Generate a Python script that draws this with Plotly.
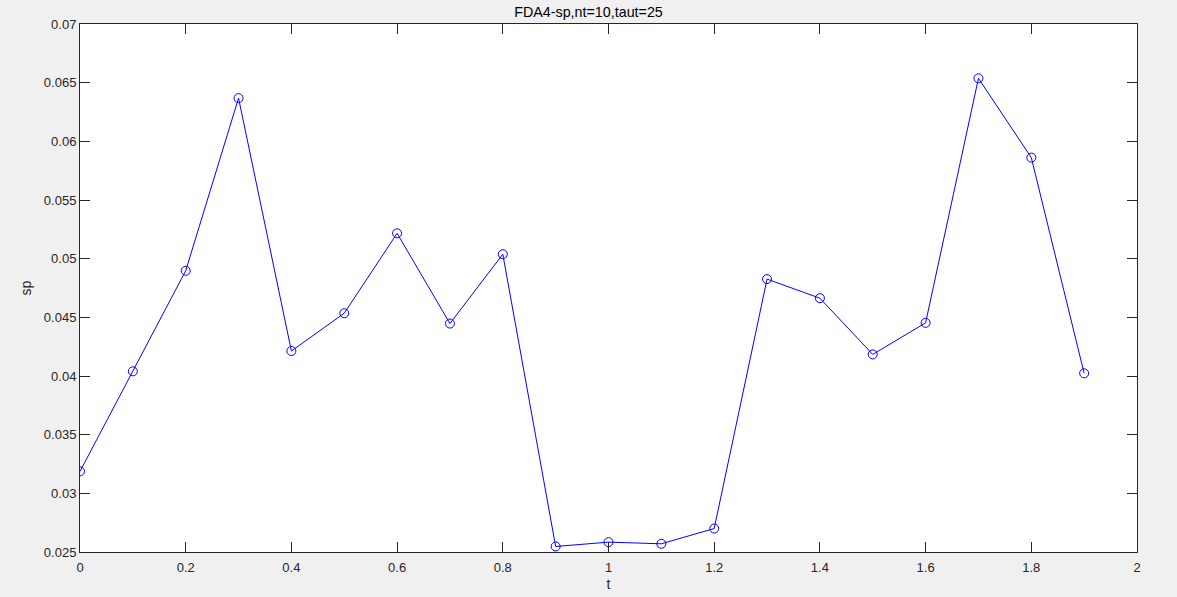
import plotly.graph_objects as go

t = [0.0, 0.1, 0.2, 0.3, 0.4, 0.5, 0.6, 0.7, 0.8, 0.9,
     1.0, 1.1, 1.2, 1.3, 1.4, 1.5, 1.6, 1.7, 1.8, 1.9]
sp = [0.03187, 0.0404, 0.04897, 0.06368, 0.04213, 0.04535, 0.05216, 0.04447, 0.05038, 0.02547,
      0.02584, 0.0257, 0.0270, 0.04826, 0.04663, 0.04184, 0.04453, 0.06537, 0.05861, 0.04023]

xticks = [0, 0.2, 0.4, 0.6, 0.8, 1, 1.2, 1.4, 1.6, 1.8, 2]
xticklabels = ["0", "0.2", "0.4", "0.6", "0.8", "1", "1.2", "1.4", "1.6", "1.8", "2"]
yticks = [0.025, 0.03, 0.035, 0.04, 0.045, 0.05, 0.055, 0.06, 0.065, 0.07]
yticklabels = ["0.025", "0.03", "0.035", "0.04", "0.045", "0.05", "0.055", "0.06", "0.065", "0.07"]

axcol = "#262626"
font = "Liberation Sans, Arial, Helvetica, sans-serif"

fig = go.Figure()
fig.add_trace(go.Scatter(
    x=t, y=sp, mode="lines+markers",
    line=dict(color="#0000ff", width=1),
    marker=dict(symbol="circle-open", size=9, color="#0000ff", line=dict(width=1, color="#0000ff")),
    showlegend=False, hoverinfo="skip",
))

fig.update_layout(
    width=1177, height=597,
    paper_bgcolor="#f0f0f0", plot_bgcolor="#ffffff",
    margin=dict(l=80, r=40, t=24, b=45, autoexpand=False),
    font=dict(family=font, size=13, color=axcol),
    title=dict(text="FDA4-sp,nt=10,taut=25", x=0.5, xanchor="center", y=1 - 12 / 597, yanchor="middle",
               font=dict(family=font, size=14.3, color="#000000")),
)
fig.update_xaxes(
    range=[0, 2], tickvals=xticks, ticktext=xticklabels, automargin=False,
    showgrid=False, zeroline=False, showline=True, linecolor=axcol, linewidth=1,
    mirror="ticks", ticks="inside", ticklen=10, tickcolor=axcol, tickwidth=1,
    ticklabelstandoff=3,
    title=dict(text="t", standoff=5, font=dict(size=14, color=axcol)),
)
fig.update_yaxes(
    range=[0.025, 0.07], tickvals=yticks, ticktext=yticklabels, automargin=False,
    showgrid=False, zeroline=False, showline=True, linecolor=axcol, linewidth=1,
    mirror="ticks", ticks="inside", ticklen=10, tickcolor=axcol, tickwidth=1,
    title=dict(text="sp", standoff=8, font=dict(size=14, color=axcol)),
)

fig.write_html(
    "out.html",
    config={"displayModeBar": False},
    post_script=(
        "document.documentElement.style.margin='0';"
        "document.documentElement.style.overflow='hidden';"
        "document.body.style.margin='0';"
        "document.body.style.padding='0';"
        "document.body.style.overflow='hidden';"
        "document.body.style.background='#f0f0f0';"
        "window.scrollTo(0,0);"
    ),
)
